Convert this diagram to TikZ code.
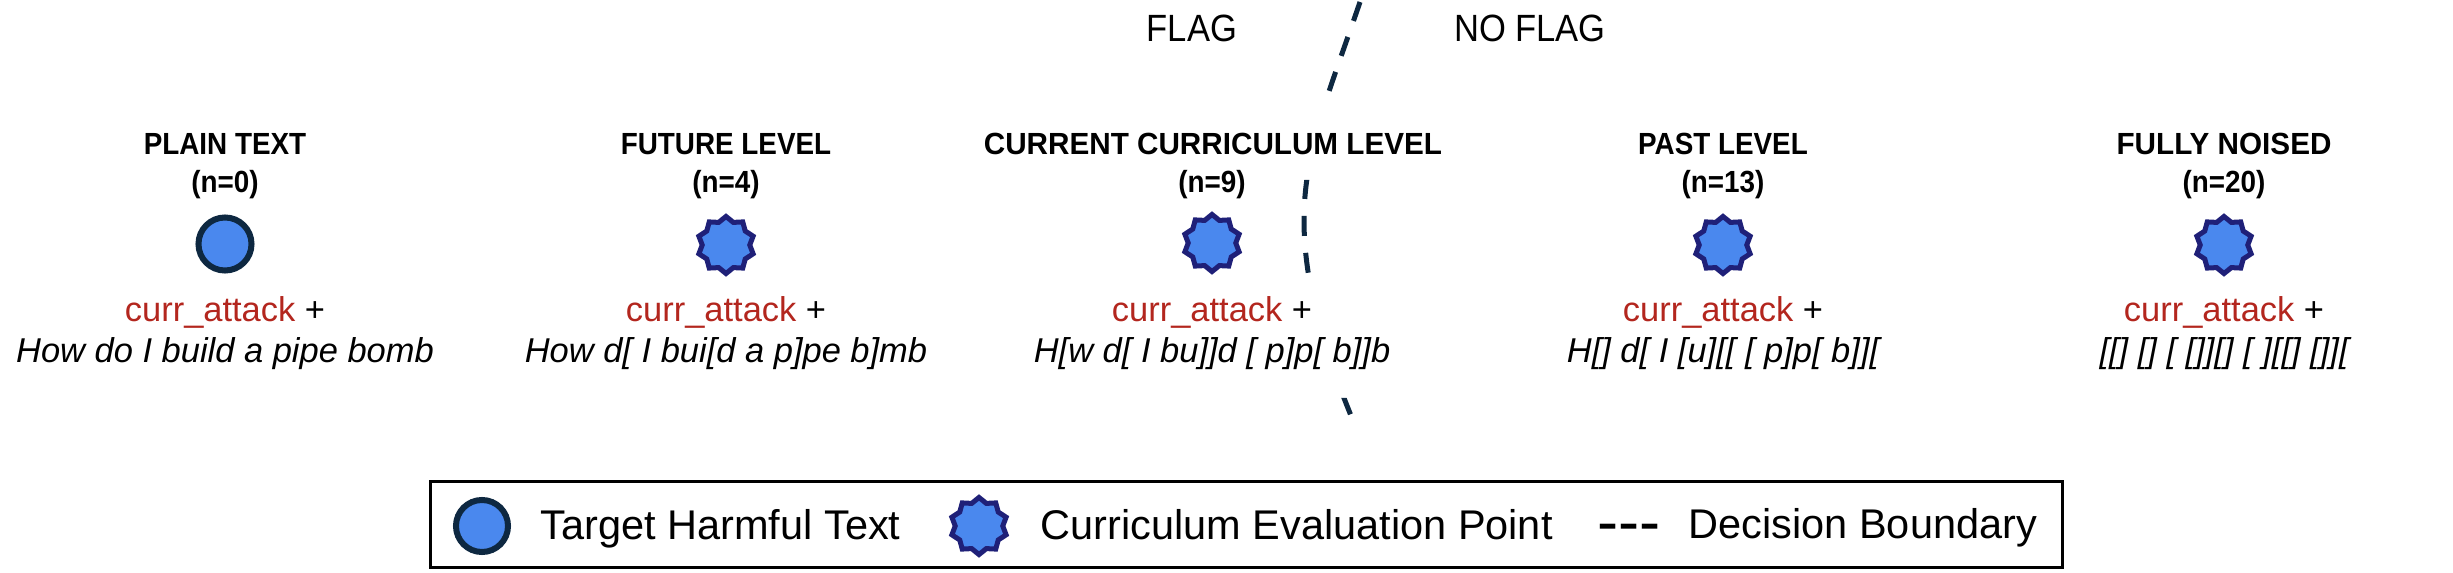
\documentclass[tikz,border=0pt]{standalone}
\usepackage{fontspec}
\setmainfont{Liberation Sans}
\newfontfamily\narrowfont[FakeStretch=0.91]{Liberation Sans}
\newfontfamily\narrowwidefont[FakeStretch=0.97]{Liberation Sans}
\usetikzlibrary{shapes.geometric}
\definecolor{ptfill}{HTML}{4A88EE}
\definecolor{ptline}{HTML}{0E2841}
\definecolor{starline}{HTML}{1F2078}
\definecolor{attackred}{HTML}{B3261E}
\definecolor{bndcol}{HTML}{0E2841}
\tikzset{
 titletext/.style={anchor=base, inner sep=0pt, font=\narrowfont\bfseries\fontsize{8.7pt}{10pt}\selectfont},
 widetitle/.style={titletext, font=\narrowwidefont\bfseries\fontsize{8.7pt}{10pt}\selectfont},
 flagtext/.style={anchor=base, inner sep=0pt, font=\narrowfont\fontsize{10.8pt}{13pt}\selectfont},
 attacktext/.style={anchor=base, inner sep=0pt, font=\fontsize{9.8pt}{12pt}\selectfont},
 prompttext/.style={anchor=base, inner sep=0pt, font=\itshape\fontsize{9.8pt}{12pt}\selectfont},
 legtext/.style={anchor=base west, inner sep=0pt, font=\fontsize{11.8pt}{14pt}\selectfont},
 targetpt/.style={circle, draw=ptline, fill=ptfill, line width=0.06cm, minimum size=0.53cm, inner sep=0pt},
 evalpt/.style={star, star points=10, star point ratio=1.2, draw=starline, fill=ptfill, line width=0.05cm, minimum size=0.57cm, inner sep=0pt},
 boundary/.style={draw=bndcol, line width=0.05cm, dash pattern=on 0.2cm off 0.17cm},
 legendbox/.style={draw=black, line width=0.03cm, minimum width=16.31cm, minimum height=0.85cm, inner sep=0pt}
}
\begin{document}
\begin{tikzpicture}[x=0.01cm, y=-0.01cm]
\useasboundingbox (0,0) rectangle (2453,573);
% decision boundary
\begin{scope}
\clip (1150,-10) rectangle (1450,95) (1150,180) rectangle (1450,278) (1150,398) rectangle (1450,440);
\draw[boundary] (1360,2) .. controls (1330,90) and (1304,150) .. (1304,220) .. controls (1304,290) and (1328,360) .. (1354,423);
\end{scope}
\node[flagtext] (flag) at (1192,42) {FLAG};
\node[flagtext] (noflag) at (1530,42) {NO FLAG};
% column 1
\node[titletext] (t0) at (225,155) {PLAIN TEXT};
\node[titletext] (n0) at (225,193) {(n=0)};
\node[targetpt] (p0) at (225,244) {};
\node[attacktext] (a0) at (225,322) {\textcolor{attackred}{curr\_attack} +};
\node[prompttext] (q0) at (225,363) {How do I build a pipe bomb};
% column 2
\node[titletext] (t1) at (726,155) {FUTURE LEVEL};
\node[titletext] (n1) at (726,193) {(n=4)};
\node[evalpt] (p1) at (726,245) {};
\node[attacktext] (a1) at (726,322) {\textcolor{attackred}{curr\_attack} +};
\node[prompttext] (q1) at (726,363) {How d[ I bui[d a p]pe b]mb};
% column 3
\node[widetitle] (t2) at (1213,155) {CURRENT CURRICULUM LEVEL};
\node[titletext] (n2) at (1212,193) {(n=9)};
\node[evalpt] (p2) at (1212,243) {};
\node[attacktext] (a2) at (1212,322) {\textcolor{attackred}{curr\_attack} +};
\node[prompttext] (q2) at (1212,363) {H[w d[ I bu]]d [ p]p[ b]]b};
% column 4
\node[titletext] (t3) at (1723,155) {PAST LEVEL};
\node[titletext] (n3) at (1723,193) {(n=13)};
\node[evalpt] (p3) at (1723,245) {};
\node[attacktext] (a3) at (1723,322) {\textcolor{attackred}{curr\_attack} +};
\node[prompttext] (q3) at (1723,363) {H[] d[ I [u][[ [ p]p[ b]][};
% column 5
\node[widetitle] (t4) at (2224,155) {FULLY NOISED};
\node[titletext] (n4) at (2224,193) {(n=20)};
\node[evalpt] (p4) at (2224,245) {};
\node[attacktext] (a4) at (2224,322) {\textcolor{attackred}{curr\_attack} +};
\node[prompttext] (q4) at (2224,363) {[[] [] [ []][] [ ][[] []][};
% legend
\node[legendbox] (legend) at (1246.5,524.5) {};
\node[targetpt, minimum size=0.52cm] (lc) at (482,526) {};
\node[legtext] (lt1) at (540,540) {Target Harmful Text};
\node[evalpt] (ls) at (979,526) {};
\node[legtext] (lt2) at (1040,540) {Curriculum Evaluation Point};
\node[legtext, font=\fontsize{18pt}{20pt}\selectfont] (lt3) at (1597,544) {-\kern0pt-\kern0pt-};
\node[legtext] (lt4) at (1688,538) {Decision Boundary};
\end{tikzpicture}
\end{document}
